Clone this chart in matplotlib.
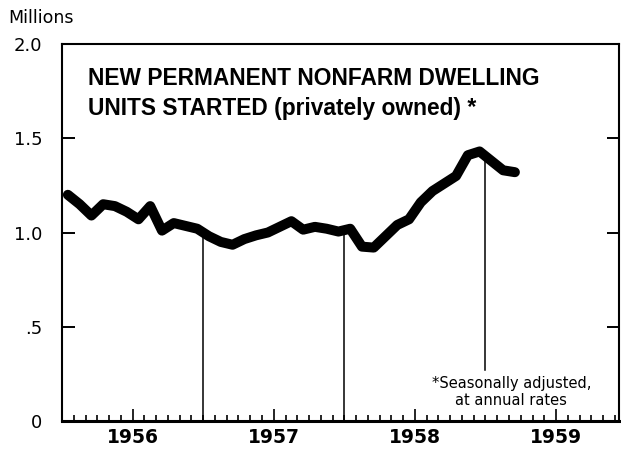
import numpy as np
import matplotlib
matplotlib.use('Agg')
import matplotlib.pyplot as plt

# monthly housing starts, millions, Jan 1956 .. Mar 1959 (seasonally adjusted annual rates)
starts = [1.20, 1.15, 1.09, 1.15, 1.14, 1.11, 1.07, 1.14, 1.01, 1.05, 1.035, 1.02,
          0.98, 0.95, 0.935, 0.965, 0.985, 1.00, 1.03, 1.06, 1.015, 1.03, 1.02, 1.005,
          1.02, 0.925, 0.92, 0.98, 1.04, 1.07, 1.16, 1.22, 1.26, 1.30, 1.41, 1.43,
          1.38, 1.33, 1.32]
years = ['1956', '1957', '1958', '1959']
ytick_vals = [0, 0.5, 1.0, 1.5, 2.0]
ytick_labels = ['0', '.5', '1.0', '1.5', '2.0']

months = np.arange(len(starts)) + 0.5

fig = plt.figure(figsize=(6.21, 4.51), dpi=100)
ax = fig.add_axes([62/621, 1 - 421/451, 557/621, 377/451])

ax.plot(months, starts, color='black', lw=7.2, solid_capstyle='round',
        solid_joinstyle='round', zorder=3)

# year division lines, up to the curve
for yb, bottom in [(12, 0), (24, 0), (36, 0.27)]:
    top = np.interp(yb, months, starts)
    ax.plot([yb, yb], [bottom, top], color='black', lw=1.1, zorder=2)

ax.set_xlim(0, 47.35)
ax.set_ylim(0, 2.0)

ax.set_yticks(ytick_vals)
ax.set_yticklabels(ytick_labels)
ax.tick_params(axis='y', direction='in', length=9, width=1.4, right=True,
               labelsize=13, pad=14)

ax.set_xticks([6, 18, 30, 42])
ax.set_xticklabels(years, fontsize=13.5, fontweight='bold')
ax.set_xticks([m for m in range(1, 48) if m not in (6, 18, 30, 42)], minor=True)
ax.tick_params(axis='x', which='major', direction='in', length=9, width=1.2, pad=5)
ax.tick_params(axis='x', which='minor', direction='in', length=4.5, width=1.2)

for s in ax.spines.values():
    s.set_linewidth(1.5)
ax.spines['bottom'].set_linewidth(2.2)

ax.text(0.047, 0.908, 'NEW PERMANENT NONFARM DWELLING', transform=ax.transAxes,
        fontsize=16.4, fontweight='bold', family='Liberation Sans', va='center')
ax.text(0.047, 0.828, 'UNITS STARTED (privately owned) *', transform=ax.transAxes,
        fontsize=16.4, fontweight='bold', family='Liberation Sans', va='center')

ax.text(38.2, 0.155, '*Seasonally adjusted,\nat annual rates', ha='center', va='center',
        fontsize=10.5, linespacing=1.15)

fig.text(8/621, 1 - 18/451, 'Millions', fontsize=12.5, va='center', ha='left')

fig.savefig('out.png', dpi=100)
